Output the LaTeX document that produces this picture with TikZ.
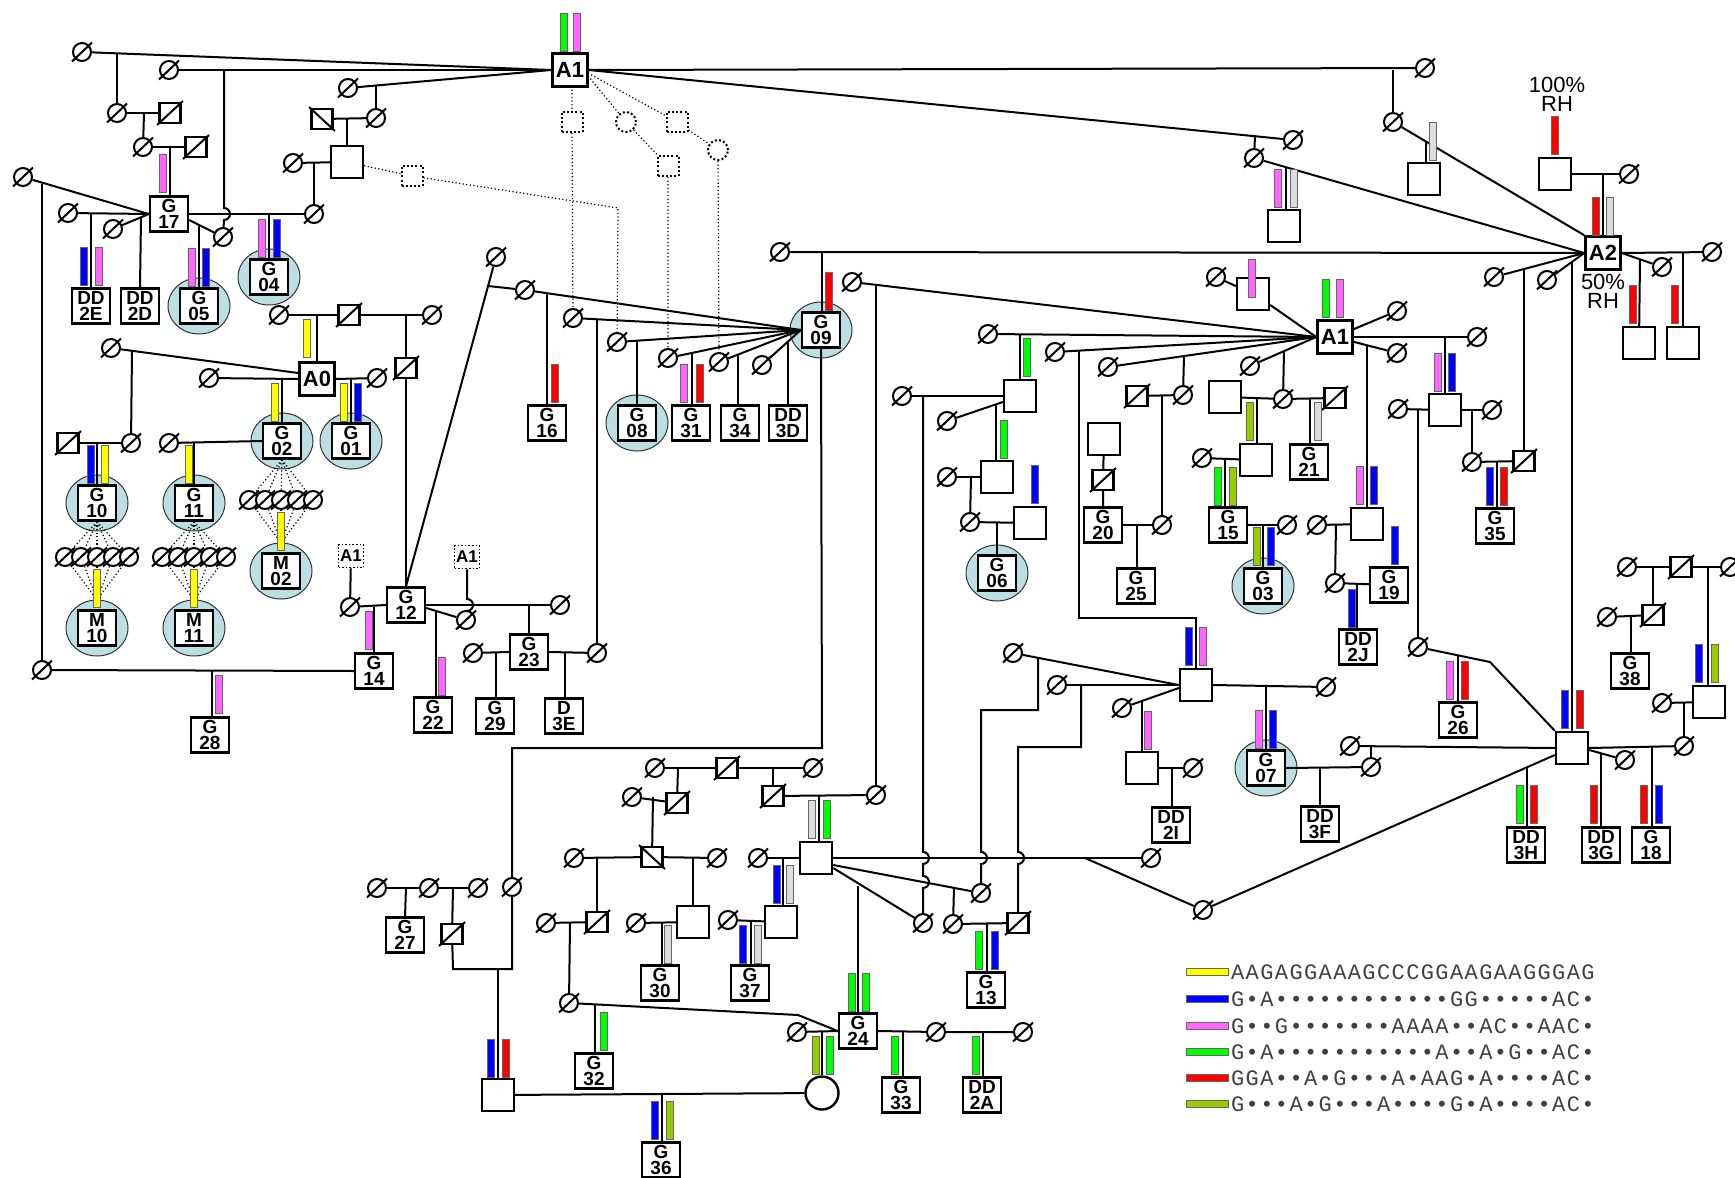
\documentclass[tikz,border=0pt]{standalone}
\usepackage{fontspec}
\setmainfont{Liberation Sans}
\newfontfamily\seqf{Liberation Mono}
\usetikzlibrary{shapes.geometric,calc}
\definecolor{cy}{HTML}{FFFF00}
\definecolor{cb}{HTML}{0000FF}
\definecolor{cp}{HTML}{FF66FF}
\definecolor{cg}{HTML}{00FF00}
\definecolor{cr}{HTML}{FF0000}
\definecolor{co}{HTML}{99CC00}
\definecolor{cgr}{HTML}{DDDDDD}
\definecolor{hlblue}{HTML}{BBDFE3}
\def\seqloop#1{\ifx\relax#1\else\makebox[7.3pt]{#1}\expandafter\seqloop\fi}
\newcommand\seqtxt[1]{\seqloop#1\relax}
\tikzset{
 ln/.style={line width=1pt},
 dl/.style={line width=0.6pt, dash pattern=on 0.6pt off 1.2pt},
 lb/.style={draw, line width=1.2pt, fill=white, minimum width=19pt, minimum height=17.5pt, inner sep=0pt, align=center, font=\fontsize{9.5}{7.95}\selectfont\bfseries},
 sq/.style={draw, line width=1.2pt, fill=white, minimum size=16pt, inner sep=0pt},
 ab/.style={draw, line width=1.3pt, fill=white, minimum width=17.5pt, minimum height=16.5pt, inner sep=0pt, font=\fontsize{11}{11}\selectfont\bfseries},
 xsq/.style={draw, line width=1.1pt, fill=white, minimum width=10.5pt, minimum height=10pt, inner sep=0pt},
 dc/.style={circle, draw, line width=1pt, fill=white, minimum size=9pt, inner sep=0pt},
 hl/.style={ellipse, draw=black!80, line width=0.5pt, fill=hlblue, minimum width=31pt, minimum height=28pt, inner sep=0pt},
 fc/.style={circle, draw, line width=1.2pt, fill=white, minimum size=16.5pt, inner sep=0pt},
 dsq/.style={draw, line width=1pt, dash pattern=on 1pt off 1.1pt, minimum width=10.5pt, minimum height=10pt, inner sep=0pt},
 dci/.style={circle, draw, line width=1pt, dash pattern=on 1pt off 1.1pt, minimum size=10pt, inner sep=0pt},
 dab/.style={draw, line width=0.8pt, dash pattern=on 0.8pt off 1pt, minimum width=12.5pt, minimum height=11.5pt, inner sep=0pt, font=\fontsize{8.5}{8.5}\selectfont\bfseries},
 txt/.style={inner sep=0pt, font=\fontsize{11}{11}\selectfont}
}
\newcommand\ZD[3]{\node[dc] (#1) at (#2,#3) {}; \draw[ln] (#2-10,#3+9.5) -- (#2+10,#3-9.5);}
\newcommand\ZX[3]{\node[xsq] (#1) at (#2,#3) {}; \draw[ln] (#2-13,#3+12) -- (#2+13,#3-12);}
\newcommand\ZB[3]{\node[xsq] (#1) at (#2,#3) {}; \draw[ln] (#2-13,#3-12) -- (#2+13,#3+12);}
\newcommand\CB[3]{\filldraw[fill=#1,draw=black!60,line width=0.35pt] (#2-3.5,#3-38) rectangle (#2+3.5,#3);}
\newcommand\HL[2]{\node[hl] at (#1,#2) {};}
\begin{document}
\begin{tikzpicture}[x=0.5pt,y=-0.5pt]
\useasboundingbox (0,0) rectangle (1735,1178);
\fill[white] (0,0) rectangle (1735,1178);
% highlight ellipses
\HL{199}{306} \HL{269}{277} \HL{282}{441} \HL{351}{441} \HL{97}{503} \HL{194}{503}
\HL{97}{628} \HL{194}{628} \HL{281}{571} \HL{637}{423} \HL{821}{330} \HL{997}{573}
\HL{1263}{586} \HL{1266}{768}
% A boxes
\node[ab] (a1) at (570,70) {A1};
\node[ab] (a0) at (317,379) {A0};
\node[ab] (a1r) at (1335,337) {A1};
\node[ab] (a2) at (1603,253) {A2};
% labelled boxes
\node[lb] (g17) at (169,214) {G\\17};
\node[lb] (dd2e) at (91,306) {DD\\2E};
\node[lb] (dd2d) at (140,306) {DD\\2D};
\node[lb] (g05) at (199,306) {G\\05};
\node[lb] (g04) at (269,277) {G\\04};
\node[lb] (g02) at (282,441) {G\\02};
\node[lb] (g01) at (351,441) {G\\01};
\node[lb] (g10) at (97,503) {G\\10};
\node[lb] (g11) at (194,503) {G\\11};
\node[lb] (m10) at (97,628) {M\\10};
\node[lb] (m11) at (194,628) {M\\11};
\node[lb] (m02) at (281,571) {M\\02};
\node[lb] (g12) at (406,605) {G\\12};
\node[lb] (g14) at (374,671) {G\\14};
\node[lb] (g28) at (210,735) {G\\28};
\node[lb] (g22) at (433,715) {G\\22};
\node[lb] (g23) at (529,652) {G\\23};
\node[lb] (g29) at (495,716) {G\\29};
\node[lb] (d3e) at (564,716) {D\\3E};
\node[lb] (g16) at (547,423) {G\\16};
\node[lb] (g08) at (637,423) {G\\08};
\node[lb] (g31) at (691,423) {G\\31};
\node[lb] (g34) at (740,423) {G\\34};
\node[lb] (dd3d) at (788,423) {DD\\3D};
\node[lb] (g09) at (821,330) {G\\09};
\node[lb] (g27) at (405,935) {G\\27};
\node[lb] (g36) at (661,1160) {G\\36};
\node[lb] (g32) at (594,1071) {G\\32};
\node[lb] (g30) at (660,983) {G\\30};
\node[lb] (g37) at (750,983) {G\\37};
\node[lb] (g24) at (858,1031) {G\\24};
\node[lb] (g33) at (901,1095) {G\\33};
\node[lb] (dd2a) at (982,1095) {DD\\2A};
\node[lb] (g13) at (986,990) {G\\13};
\node[lb] (g06) at (997,573) {G\\06};
\node[lb] (g20) at (1103,525) {G\\20};
\node[lb] (g25) at (1136,586) {G\\25};
\node[lb] (g15) at (1228,525) {G\\15};
\node[lb] (g03) at (1263,586) {G\\03};
\node[lb] (g21) at (1309,462) {G\\21};
\node[lb] (g19) at (1389,585) {G\\19};
\node[lb] (dd2j) at (1358,647) {DD\\2J};
\node[lb] (g35) at (1495,526) {G\\35};
\node[lb] (g26) at (1458,720) {G\\26};
\node[lb] (g07) at (1266,768) {G\\07};
\node[lb] (dd2i) at (1171,825) {DD\\2I};
\node[lb] (dd3f) at (1320,824) {DD\\3F};
\node[lb] (dd3h) at (1526,845) {DD\\3H};
\node[lb] (dd3g) at (1601,845) {DD\\3G};
\node[lb] (g18) at (1651,845) {G\\18};
\node[lb] (g38) at (1630,671) {G\\38};
% empty squares
\node[sq] (s1) at (347,162) {};
\node[sq] (sq2) at (498,1095) {};
\node[sq] (sq3) at (693,922) {};
\node[sq] (sq4) at (781,922) {};
\node[sq] (q3) at (816,858) {};
\node[sq] (sq5) at (1020,396) {};
\node[sq] (sq6) at (997,477) {};
\node[sq] (sq7) at (1030,523) {};
\node[sq] (sq8) at (1104,439) {};
\node[sq] (sq9) at (1225,397) {};
\node[sq] (sq10) at (1256,460) {};
\node[sq] (sq11) at (1253,294) {};
\node[sq] (sq12) at (1445,410) {};
\node[sq] (sq13) at (1367,524) {};
\node[sq] (q1) at (1196,685) {};
\node[sq] (sq20) at (1142,768) {};
\node[sq] (q2) at (1572,748) {};
\node[sq] (sq14) at (1424,179) {};
\node[sq] (sq15) at (1284,226) {};
\node[sq] (sq16) at (1555,174) {};
\node[sq] (sq17) at (1683,343) {};
\node[sq] (sq18) at (1639,343) {};
\node[sq] (sq19) at (1709,702) {};
\node[fc] (fc1) at (822,1093) {};
% crossed squares
\ZX{x1}{170}{113} \ZX{x2}{196}{147} \ZB{x3}{322}{119} \ZX{x4}{349}{315} \ZX{x5}{406}{368}
\ZX{x6}{68}{443} \ZX{x7}{452}{934} \ZX{x8}{727}{768} \ZX{x9}{677}{803} \ZX{x10}{773}{796}
\ZB{x11}{652}{857} \ZX{x12}{597}{922} \ZX{x13}{1018}{923} \ZX{x14}{1137}{396} \ZX{x15}{1103}{480}
\ZX{x16}{1335}{398} \ZX{x17}{1524}{461} \ZX{x18}{1681}{567} \ZX{x19}{1653}{615}
% deceased
\ZD{e1}{82}{52} \ZD{e2}{169}{70} \ZD{e3}{117}{113} \ZD{e4}{143}{147} \ZD{e5}{23}{177}
\ZD{e6}{68}{213} \ZD{e7}{113}{229} \ZD{e8}{223}{237} \ZD{e9}{348}{88} \ZD{e10}{376}{118}
\ZD{e11}{293}{163} \ZD{e12}{314}{214} \ZD{e13}{42}{670} \ZD{e14}{279}{315} \ZD{e15}{432}{315}
\ZD{e16}{111}{348} \ZD{e17}{131}{443} \ZD{e18}{209}{378} \ZD{e19}{377}{378} \ZD{e20}{169}{443}
\ZD{e21}{350}{607} \ZD{e22}{560}{605} \ZD{e23}{466}{620} \ZD{e24}{473}{653} \ZD{e25}{597}{653}
\ZD{e26}{496}{257} \ZD{e27}{525}{290} \ZD{e28}{573}{318} \ZD{e29}{617}{342} \ZD{e30}{668}{358}
\ZD{e31}{719}{362} \ZD{e32}{762}{365} \ZD{e33}{780}{252} \ZD{e34}{512}{887} \ZD{e35}{377}{888}
\ZD{e36}{429}{888} \ZD{e37}{478}{888} \ZD{e38}{655}{768} \ZD{e39}{813}{768} \ZD{e40}{632}{797}
\ZD{e41}{574}{858} \ZD{e42}{717}{858} \ZD{e43}{546}{923} \ZD{e44}{569}{1003} \ZD{e45}{636}{923}
\ZD{e46}{758}{858} \ZD{e47}{728}{920} \ZD{e48}{876}{795} \ZD{e49}{1151}{858} \ZD{e50}{1203}{910}
\ZD{e51}{923}{923} \ZD{e52}{981}{893} \ZD{e53}{953}{924} \ZD{e54}{797}{1032} \ZD{e55}{936}{1032}
\ZD{e56}{1023}{1032} \ZD{e57}{852}{282} \ZD{e58}{988}{334} \ZD{e59}{902}{396} \ZD{e60}{947}{421}
\ZD{e61}{947}{477} \ZD{e62}{970}{522} \ZD{e63}{1055}{352} \ZD{e64}{1108}{367} \ZD{e65}{1183}{395}
\ZD{e66}{1162}{525} \ZD{e67}{1250}{366} \ZD{e68}{1283}{399} \ZD{e69}{1202}{458} \ZD{e70}{1287}{525}
\ZD{e71}{1216}{277} \ZD{e72}{1397}{311} \ZD{e73}{1397}{353} \ZD{e74}{1477}{337} \ZD{e75}{1317}{525}
\ZD{e76}{1335}{583} \ZD{e77}{1398}{409} \ZD{e78}{1418}{647} \ZD{e79}{1492}{410} \ZD{e80}{1472}{462}
\ZD{e81}{1425}{68} \ZD{e82}{1393}{122} \ZD{e83}{1293}{140} \ZD{e84}{1254}{158} \ZD{e85}{1629}{174}
\ZD{e86}{1494}{277} \ZD{e87}{1547}{280} \ZD{e88}{1712}{252} \ZD{e89}{1662}{267} \ZD{e90}{1350}{746}
\ZD{e91}{1371}{767} \ZD{e92}{1326}{687} \ZD{e93}{1625}{760} \ZD{e94}{1684}{746} \ZD{e95}{1662}{703}
\ZD{e96}{1627}{567} \ZD{e97}{1730}{567} \ZD{e98}{1607}{617} \ZD{e99}{1013}{653} \ZD{e100}{1057}{685}
\ZD{e101}{1122}{708} \ZD{e102}{1193}{768}
% rows of five
\ZD{ra1}{65}{557} \ZD{ra2}{81}{557} \ZD{ra3}{97}{557} \ZD{ra4}{113}{557} \ZD{ra5}{129}{557}
\ZD{rb1}{162}{557} \ZD{rb2}{178}{557} \ZD{rb3}{194}{557} \ZD{rb4}{210}{557} \ZD{rb5}{226}{557}
\ZD{rc1}{249}{500} \ZD{rc2}{265}{500} \ZD{rc3}{281}{500} \ZD{rc4}{297}{500} \ZD{rc5}{313}{500}
% dotted
\node[dsq] (ds1) at (412,176) {};
\node[dsq] (ds2) at (572,122) {};
\node[dci] (dc1) at (626,122) {};
\node[dsq] (ds3) at (668,166) {};
\node[dsq] (ds4) at (677,122) {};
\node[dci] (dc2) at (718,150) {};
\node[dab] (da1) at (351,556) {A1};
\node[dab] (da2) at (467,557) {A1};
% ---------- lines: top left
\draw[ln] (e1) -- (a1.west);
\draw[ln] (e2) -- (a1.west);
\draw[ln] (e9) -- (a1.west);
\draw[ln] (117,53.5) -- (e3);
\draw[ln] (e3) -- (x1);
\draw[ln] (144,113) -- (e4);
\draw[ln] (e4) -- (x2);
\draw[ln] (170,147) -- (170,0 |- g17.north);
\draw[ln] (e5) -- (g17.west);
\draw[ln] (42,184) -- (e13);
\draw[ln] (e6) -- (g17.west);
\draw[ln] (91,213) -- (dd2e.north);
\draw[ln] (e7) -- (g17.west);
\draw[ln] (141,218) -- (dd2d.north);
\draw[ln] ($(g17.east)+(0,6)$) -- (e8);
\draw[ln] (199,225) -- (199,0 |- g05.north);
\draw[ln] (g17.east) -- (e12);
\draw[ln] (224,70) -- (224,208) arc[start angle=-90,end angle=90,radius=6] -- (e8);
\draw[ln] (269,214) -- (269,0 |- g04.north);
\draw[ln] (376,86.3) -- (e10);
\draw[ln] (x3) -- (e10);
\draw[ln] (347,119) -- (s1);
\draw[ln] (e11) -- (s1);
\draw[ln] (314,163) -- (e12);
\draw[dl] (s1) -- (ds1);
\draw[dl] (ds1) -- (618,208) -- (e29);
\draw[dl] (572,86) -- (ds2) -- (e28);
\draw[dl] (588,76) -- (dc1) -- (ds3) -- (e30);
\draw[dl] (588,73) -- (ds4) -- (dc2) -- (e31);
% A1 to the right
\draw[ln] (a1.east) -- (e81);
\draw[ln] (a1.east) -- (e83);
\draw[ln] (1255,136.2) -- (e84);
\draw[ln] (1393,70) -- (e82);
\draw[ln] (e82) -- (a2.north west);
\draw[ln] (1426,142) -- (1426,0 |- sq14.north);
\draw[ln] (e84) -- (a2.west);
\draw[ln] (1286,167.2) -- (1286,0 |- sq15.north);
\draw[ln] (sq16) -- (e85);
\draw[ln] (1603,174) -- (a2.north);
\draw[ln] (e86) -- (a2.west);
\draw[ln] (e87) -- (a2.west);
\draw[ln] (1524,269) -- (x17);
\draw[ln] (1572,262) -- (1572,0 |- q2.north);
\draw[ln] (a2.east) -- (e88);
\draw[ln] (1683,252) -- (sq17);
\draw[ln] (a2.east) -- (e89);
\draw[ln] (1640,259.6) -- (sq18);
\draw[ln] (e33) -- (a2.west);
\draw[ln] (822,252) -- (822,0 |- g09.north);
% A0 cluster
\draw[ln] (e14) -- (x4) -- (e15);
\draw[ln] (317,315) -- (a0.north);
\draw[ln] (406,315) -- (x5);
\draw[ln] (x5) -- (g12.north);
\draw[ln] (e16) -- ($(a0.west)+(0,-6)$);
\draw[ln] (132,351.5) -- (e17);
\draw[ln] (e18) -- (a0.west);
\draw[ln] (282,379) -- (g02.north);
\draw[ln] (a0.east) -- (e19);
\draw[ln] (351,379) -- (g01.north);
\draw[ln] (x6) -- (e17);
\draw[ln] (97,443) -- (g10.north);
\draw[ln] (e20) -- (g02.west);
\draw[ln] (194,442) -- (g11.north);
\foreach \r in {ra1,ra2,ra3,ra4,ra5}{\draw[dl] (g10.south) -- (\r); \draw[dl] (\r) -- (97,600);}
\foreach \r in {rb1,rb2,rb3,rb4,rb5}{\draw[dl] (g11.south) -- (\r); \draw[dl] (\r) -- (194,600);}
\foreach \r in {rc1,rc2,rc3,rc4,rc5}{\draw[dl] (g02.south) -- (\r); \draw[dl] (\r) -- (281,543);}
% G12 cluster
\draw[ln] (da1) -- (e21);
\draw[ln] (e21) -- (g12.west);
\draw[ln] (374,607) -- (374,0 |- g14.north);
\draw[ln] (e13) -- (g14.west);
\draw[ln] (212,670) -- (212,0 |- g28.north);
\draw[ln] (g12.east) -- (e22);
\draw[ln] ($(g12.east)+(0,3)$) -- (e23);
\draw[ln] (436,611) -- (436,0 |- g22.north);
\draw[ln] (da2.south) -- (467,599) arc[start angle=-90,end angle=90,radius=6] -- (e23);
\draw[ln] (529,605) -- (g23.north);
\draw[ln] (e24) -- (g23.west);
\draw[ln] (496,653) -- (496,0 |- g29.north);
\draw[ln] (g23.east) -- (e25);
\draw[ln] (565,653) -- (565,0 |- d3e.north);
% G09 cluster
\draw[ln] (e26) -- (g12.north);
\draw[ln] (488,286) -- (e27);
\draw[ln] (e27) -- (g09.west);
\draw[ln] (547,293.2) -- (547,0 |- g16.north);
\draw[ln] (e28) -- (g09.west);
\draw[ln] (597,319.3) -- (e25);
\draw[ln] (e29) -- (g09.west);
\draw[ln] (637,340.7) -- (g08.north);
\draw[ln] (e30) -- (g09.west);
\draw[ln] (692,353) -- (692,0 |- g31.north);
\draw[ln] (e31) -- (g09.west);
\draw[ln] (738,354.7) -- (738,0 |- g34.north);
\draw[ln] (e32) -- (g09.west);
\draw[ln] (788,342) -- (dd3d.north);
\draw[ln] (g09.south) -- (822,748) -- (512,748) -- (e34);
% bottom left
\draw[ln] (e35) -- (e36) -- (e37);
\draw[ln] (406,888) -- (g27.north);
\draw[ln] (453,888) -- (x7);
\draw[ln] (x7) -- (453,969) -- (512,969) -- (e34);
\draw[ln] (498,969) -- (sq2);
\draw[ln] (sq2) -- (fc1);
\draw[ln] (662,1095) -- (662,0 |- g36.north);
% bottom middle
\draw[ln] (e38) -- (x8) -- (e39);
\draw[ln] (678,768) -- (x9);
\draw[ln] (773,768) -- (x10);
\draw[ln] (e40) -- (x9);
\draw[ln] (653,797) -- (x11);
\draw[ln] (e41) -- (x11) -- (e42);
\draw[ln] (597,858) -- (x12);
\draw[ln] (e43) -- (x12);
\draw[ln] (570,923) -- (e44);
\draw[ln] (e44) -- (798,1015) -- (g24.west);
\draw[ln] (595,1004) -- (595,0 |- g32.north);
\draw[ln] (693,858) -- (sq3);
\draw[ln] (e45) -- (sq3);
\draw[ln] (662,923) -- (662,0 |- g30.north);
\draw[ln] (e46) -- (q3);
\draw[ln] (783,858) -- (783,0 |- sq4.north);
\draw[ln] (e47) -- (sq4);
\draw[ln] (751,921) -- (751,0 |- g37.north);
\draw[ln] (x10) -- (e48);
\draw[ln] (819,796) -- (819,0 |- q3.north);
\draw[ln] (e48) -- (876,284.6);
\draw[ln] (q3.east) -- (e49);
\draw[ln] (1085,858) -- (e50);
\draw[ln] ($(q3.east)+(0,10)$) -- (e51);
\draw[ln] ($(q3.east)+(0,7)$) -- (e52);
\draw[ln] (954,888) -- (e53);
\draw[ln] (e53) -- (x13);
\draw[ln] (987,924) -- (987,0 |- g13.north);
\draw[ln] (858,886) -- (g24.north);
\draw[ln] (e54) -- (g24.west);
\draw[ln] (822,1032) -- (fc1);
\draw[ln] (g24.east) -- (e55) -- (e56);
\draw[ln] (903,1032) -- (903,0 |- g33.north);
\draw[ln] (983,1032) -- (983,0 |- dd2a.north);
\draw[ln] (923,396) -- (923,852) arc[start angle=-90,end angle=90,radius=6] -- (923,876) arc[start angle=-90,end angle=90,radius=6] -- (e51);
\draw[ln] (1038,657.8) -- (1038,710) -- (981,710) -- (981,852) arc[start angle=-90,end angle=90,radius=6] -- (e52);
\draw[ln] (1081,685) -- (1081,747) -- (1018,747) -- (1018,852) arc[start angle=-90,end angle=90,radius=6] -- (x13);
% A1 right cluster
\draw[ln] (e57) -- (a1r.west);
\draw[ln] (e58) -- (a1r.west);
\draw[ln] (1020,334.5) -- (sq5);
\draw[ln] (e59) -- (sq5);
\draw[ln] (e60) -- ($(sq5.west)+(0,6)$);
\draw[ln] (996,404.7) -- (996,0 |- sq6.north);
\draw[ln] (e61) -- (sq6);
\draw[ln] (971,477) -- (e62);
\draw[ln] (e62) -- (sq7);
\draw[ln] (997,523) -- (g06.north);
\draw[ln] (e63) -- (a1r.west);
\draw[ln] (1079,350.6) -- (1079,618) -- (1196,618) -- (q1);
\draw[ln] (e64) -- (a1r.west);
\draw[ln] (1184,356.1) -- (e65);
\draw[ln] (x14) -- (e65);
\draw[ln] (1162,396) -- (e66);
\draw[ln] (sq8) -- (x15) -- (g20);
\draw[ln] (g20) -- (e66);
\draw[ln] (1137,525) -- (1137,0 |- g25.north);
\draw[ln] (e67) -- (a1r.west);
\draw[ln] (1284,351.4) -- (e68);
\draw[ln] (sq9) -- (e68) -- (x16);
\draw[ln] (1257,398) -- (1257,0 |- sq10.north);
\draw[ln] (1310,398) -- (1310,0 |- g21.north);
\draw[ln] (e69) -- (sq10);
\draw[ln] (1225,458) -- (1225,0 |- g15.north);
\draw[ln] (g15) -- (e70);
\draw[ln] (1263,525) -- (g03.north);
\draw[ln] (e71) -- (sq11);
\draw[ln] ($(sq11.east)+(0,11)$) -- (a1r.west);
\draw[ln] (a1r) -- (e72);
\draw[ln] (a1r) -- (e73);
\draw[ln] (a1r.east) -- (e74);
\draw[ln] (1445,337) -- (sq12);
\draw[ln] (1367,345.3) -- (1367,0 |- sq13.north);
\draw[ln] (e75) -- (sq13);
\draw[ln] (1336,525) -- (e76);
\draw[ln] (e76) -- (g19);
\draw[ln] (1357,584) -- (1357,0 |- dd2j.north);
\draw[ln] (e77) -- (sq12);
\draw[ln] (1418,409) -- (e78);
\draw[ln] (sq12) -- (e79);
\draw[ln] (1472,410) -- (e80);
\draw[ln] (e80) -- (x17);
\draw[ln] (1497,462) -- (1497,0 |- g35.north);
\draw[ln] (e78) -- (1490,662) -- (q2.north west);
\draw[ln] (1458,655.3) -- (1458,0 |- g26.north);
% right bottom
\draw[ln] (e99) -- (q1.west);
\draw[ln] (e100) -- (q1.west);
\draw[ln] (e101) -- ($(q1.west)+(0,3)$);
\draw[ln] (1142,701) -- (sq20);
\draw[ln] (sq20) -- (e102);
\draw[ln] (1172,768) -- (1172,0 |- dd2i.north);
\draw[ln] (q1.east) -- (e92);
\draw[ln] (1266,686) -- (g07.north);
\draw[ln] (g07.east) -- (e91);
\draw[ln] (1320,768) -- (dd3f.north);
\draw[ln] (q2.west) -- (e90);
\draw[ln] (1371,747) -- (e91);
\draw[ln] ($(q2.west)+(0,7)$) -- (e50);
\draw[ln] (1527,767.7) -- (1527,0 |- dd3h.north);
\draw[ln] ($(q2.east)+(0,2)$) -- (e93);
\draw[ln] (1601,753) -- (1601,0 |- dd3g.north);
\draw[ln] (q2.east) -- (e94);
\draw[ln] (1652,747) -- (1652,0 |- g18.north);
\draw[ln] (e94) -- (1684,703);
\draw[ln] (e95) -- (sq19);
\draw[ln] (e96) -- (x18) -- (e97);
\draw[ln] (1708,567) -- (1708,0 |- sq19.north);
\draw[ln] (1653,567) -- (x19);
\draw[ln] (e98) -- (x19);
\draw[ln] (1631,616) -- (1631,0 |- g38.north);
% ---------- bars
\CB{cg}{563.5}{51} \CB{cp}{576.5}{51}
\CB{cp}{162.5}{192}
\CB{cb}{83.5}{285} \CB{cp}{99}{285}
\CB{cp}{191.5}{286} \CB{cb}{206}{286}
\CB{cp}{262}{257} \CB{cb}{276.5}{257}
\CB{cy}{307}{357}
\CB{cy}{275}{421}
\CB{cy}{344}{421} \CB{cb}{358}{421}
\CB{cb}{90.5}{483} \CB{cy}{105}{483}
\CB{cy}{188.5}{483}
\CB{cy}{97}{607} \CB{cy}{194}{607} \CB{cy}{280.5}{550}
\CB{cp}{368.5}{649}
\CB{cp}{218.5}{713}
\CB{cp}{441.5}{695}
\CB{cr}{554.5}{402}
\CB{cp}{684}{402} \CB{cr}{699.5}{402}
\CB{cr}{829}{310}
\CB{cb}{490.5}{1077} \CB{cr}{505.5}{1077}
\CB{cb}{654.5}{1139} \CB{co}{669.5}{1139}
\CB{cg}{603.5}{1050}
\CB{cgr}{668}{963}
\CB{cb}{743}{963} \CB{cgr}{757.5}{963}
\CB{cb}{776.5}{903} \CB{cgr}{790}{903}
\CB{cgr}{812}{838} \CB{cg}{827}{838}
\CB{cg}{851.5}{1011} \CB{cg}{865.5}{1011}
\CB{co}{815.5}{1074} \CB{cg}{830}{1074}
\CB{cg}{895}{1074}
\CB{cg}{976}{1074}
\CB{cg}{978.5}{969} \CB{cb}{994.5}{969}
\CB{cg}{1027}{376}
\CB{cg}{1003.5}{458}
\CB{cb}{1034.5}{503}
\CB{cb}{1188.5}{665} \CB{cp}{1203}{665}
\CB{co}{1249.5}{440}
\CB{cgr}{1317.5}{440}
\CB{cg}{1217.5}{505} \CB{co}{1232.5}{505}
\CB{co}{1256.5}{565} \CB{cb}{1270.5}{565}
\CB{cp}{1252}{297}
\CB{cg}{1326}{317} \CB{cp}{1339.5}{317}
\CB{cp}{1437.5}{391} \CB{cb}{1452}{391}
\CB{cp}{1360}{504} \CB{cb}{1374}{504}
\CB{cb}{1395}{564}
\CB{cb}{1352}{627}
\CB{cb}{1489.5}{505} \CB{cr}{1503.5}{505}
\CB{cp}{1449.5}{699} \CB{cr}{1464.5}{699}
\CB{cp}{1148}{749}
\CB{cp}{1258.5}{748} \CB{cb}{1273}{748}
\CB{cb}{1564.5}{728} \CB{cr}{1579.5}{728}
\CB{cg}{1519.5}{823} \CB{cr}{1533.5}{823}
\CB{cr}{1593.5}{823}
\CB{cr}{1644}{823} \CB{cb}{1658.5}{823}
\CB{cb}{1698.5}{682} \CB{co}{1714.5}{682}
\CB{cgr}{1433}{160}
\CB{cp}{1278}{207} \CB{cgr}{1293.5}{207}
\CB{cr}{1555}{154}
\CB{cr}{1596}{235} \CB{cgr}{1610}{235}
\CB{cr}{1674.5}{323}
\CB{cr}{1633}{323}
% texts
\node[txt] (t100) at (1557,85) {100\%};
\node[txt] (t100b) at (1557,103.5) {RH};
\node[txt] (t50) at (1603,282) {50\%};
\node[txt] (t50b) at (1603,300.5) {RH};
% legend
\filldraw[fill=cy,draw=black!60,line width=0.35pt] (1186,968.5) rectangle (1228,975.5);
\filldraw[fill=cb,draw=black!60,line width=0.35pt] (1186,995.5) rectangle (1228,1002.5);
\filldraw[fill=cp,draw=black!60,line width=0.35pt] (1186,1022.5) rectangle (1228,1029.5);
\filldraw[fill=cg,draw=black!60,line width=0.35pt] (1186,1048.5) rectangle (1228,1055.5);
\filldraw[fill=cr,draw=black!60,line width=0.35pt] (1186,1074.5) rectangle (1228,1081.5);
\filldraw[fill=co,draw=black!60,line width=0.35pt] (1186,1100.5) rectangle (1228,1107.5);
\begin{scope}[every node/.style={anchor=west, inner sep=0pt, text=black!75, font=\seqf\fontsize{11}{12}\selectfont}]
\node (l1) at (1230,972) {\seqtxt{AAGAGGAAAGCCCGGAAGAAGGGAG}};
\node (l2) at (1230,999) {\seqtxt{G•A••••••••••••GG•••••AC•}};
\node (l3) at (1230,1026) {\seqtxt{G••G•••••••AAAA••AC••AAC•}};
\node (l4) at (1230,1052) {\seqtxt{G•A•••••••••••A••A•G••AC•}};
\node (l5) at (1230,1078) {\seqtxt{GGA••A•G•••A•AAG•A••••AC•}};
\node (l6) at (1230,1104) {\seqtxt{G•••A•G•••A••••G•A••••AC•}};
\end{scope}
\end{tikzpicture}
\end{document}
